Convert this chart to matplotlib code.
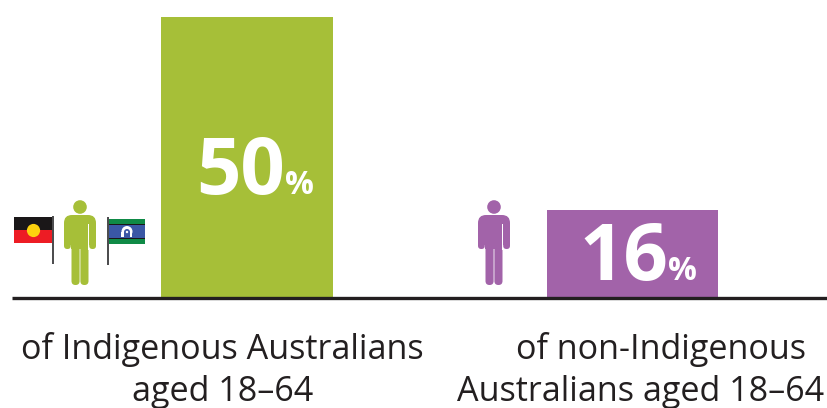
import matplotlib
matplotlib.use('Agg')
import matplotlib.pyplot as plt
from matplotlib.patches import Circle, FancyBboxPatch, Rectangle

# values
groups = ['Indigenous', 'non-Indigenous']
percents = [50, 15.7]
number_labels = ['50', '16']
labels = ['of Indigenous Australians\naged 18–64', 'of non-Indigenous\nAustralians aged 18–64']
colors = ['#a6bf38', '#a263a9']

W, H = 828, 408
BASE = 298      # pixel row of the axis line
PX = 5.62       # pixels per percent

plt.rcParams['font.family'] = ['Open Sans', 'DejaVu Sans']
fig = plt.figure(figsize=(W / 100, H / 100), dpi=100)

# bar axes: x in pixels, y in percent
ax = fig.add_axes([0, 0, 1, 1])
ax.set_xlim(0, W)
ax.set_ylim(-(H - BASE) / PX, BASE / PX)
ax.axis('off')
ax.bar([247, 632.5], percents, width=[172, 171], color=colors, zorder=2)
ax.plot([12, 828], [0, 0], color='#231f20', lw=2.4, zorder=3, solid_capstyle='butt')

# overlay for icons and text, in pixels from top left
ov = fig.add_axes([0, 0, 1, 1])
ov.set_xlim(0, W)
ov.set_ylim(H, 0)
ov.axis('off')


def rbox(x0, y0, x1, y1, r, c):
    ov.add_patch(FancyBboxPatch((x0 + r, y0 + r), x1 - x0 - 2 * r, y1 - y0 - 2 * r,
                                boxstyle=f'round,pad={r},rounding_size={r}',
                                fc=c, ec='none', zorder=4))


def person(cx, c):
    ov.add_patch(Circle((cx, 207), 6.8, fc=c, ec='none', zorder=4))
    rbox(cx - 16, 215, cx + 16, 236, 8, c)
    # arms
    ov.add_patch(Rectangle((cx - 16, 224), 6.8, 21, fc=c, ec='none', zorder=4))
    ov.add_patch(Rectangle((cx + 9.2, 224), 6.8, 21, fc=c, ec='none', zorder=4))
    rbox(cx - 16, 238, cx - 9.2, 249, 3.3, c)
    rbox(cx + 9.2, 238, cx + 16, 249, 3.3, c)
    # white slit between arm and torso
    ov.add_patch(Rectangle((cx - 9.2, 224), 0.7, 26, fc='white', ec='none', zorder=5))
    ov.add_patch(Rectangle((cx + 8.5, 224), 0.7, 26, fc='white', ec='none', zorder=5))
    # torso and legs
    ov.add_patch(Rectangle((cx - 8.5, 224), 17, 25, fc=c, ec='none', zorder=4))
    rbox(cx - 8.5, 240, cx - 0.4, 285, 4, c)
    rbox(cx + 0.4, 240, cx + 8.5, 285, 4, c)


person(80, colors[0])
person(494, colors[1])

# Aboriginal flag
ov.add_patch(Rectangle((14, 217), 38, 13, fc='#1a1718', ec='none', zorder=4))
ov.add_patch(Rectangle((14, 230), 38, 13, fc='#ed1c24', ec='none', zorder=4))
ov.add_patch(Circle((33.5, 230.5), 6.6, fc='#fdd20e', ec='none', zorder=5))
ov.add_patch(Rectangle((52, 216), 2, 48, fc='#4d4d4f', ec='none', zorder=5))

# Torres Strait flag
ov.add_patch(Rectangle((109, 219), 36, 25, fc='#0f8a46', ec='none', zorder=4))
ov.add_patch(Rectangle((109, 224), 36, 15, fc='#1a1718', ec='none', zorder=5))
ov.add_patch(Rectangle((109, 225), 36, 13, fc='#3a57a5', ec='none', zorder=6))
ov.add_patch(Circle((127, 231.5), 5.5, fc='white', ec='none', zorder=7))
ov.add_patch(Rectangle((121.5, 231.5), 11, 5.5, fc='white', ec='none', zorder=7))
ov.add_patch(Circle((127, 232), 3, fc='#3a57a5', ec='none', zorder=8))
ov.add_patch(Rectangle((124, 232), 6, 5, fc='#3a57a5', ec='none', zorder=8))
ov.add_patch(Circle((127, 232), 1.2, fc='white', ec='none', zorder=9))
ov.add_patch(Rectangle((107, 217), 2, 48, fc='#4d4d4f', ec='none', zorder=8))

# bar numbers
ov.text(240.5, 194, number_labels[0], color='white', fontsize=56, fontweight='bold', ha='center', va='baseline', zorder=9)
ov.text(299.5, 194, '%', color='white', fontsize=23, fontweight='bold', ha='center', va='baseline', zorder=9)
ov.text(623.5, 280, number_labels[1], color='white', fontsize=56, fontweight='bold', ha='center', va='baseline', zorder=9)
ov.text(682, 280, '%', color='white', fontsize=23, fontweight='bold', ha='center', va='baseline', zorder=9)

# category labels
l1 = labels[0].split('\n')
l2 = labels[1].split('\n')
ov.text(222.5, 359, l1[0], color='#231f20', fontsize=24.55, ha='center', va='baseline')
ov.text(222.5, 401, l1[1], color='#231f20', fontsize=24.55, ha='center', va='baseline')
ov.text(661, 359, l2[0], color='#231f20', fontsize=24.55, ha='center', va='baseline')
ov.text(641, 401, l2[1], color='#231f20', fontsize=24.55, ha='center', va='baseline')

fig.savefig('out.png', dpi=100)
